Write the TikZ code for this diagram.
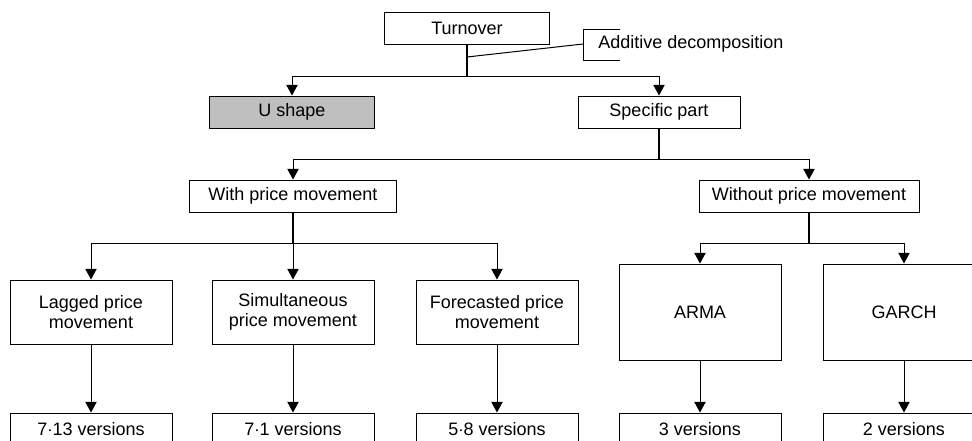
\documentclass[tikz,border=0pt]{standalone}
\usepackage{fontspec}
\setmainfont{Liberation Sans}
\usetikzlibrary{arrows.meta}

\begin{document}
\begin{tikzpicture}[
            x=0.75pt, y=-0.75pt,
            font=\fontsize{13.5}{15}\selectfont,
            box/.style={
                rectangle,
                draw=black,
                line width=0.75pt,
                inner sep=0pt,
                minimum height=24pt,
                align=center
            },
            tallbox/.style={
                box,
                minimum width=121.5pt,
                minimum height=48pt
            },
            bigbox/.style={
                box,
                minimum width=121.5pt,
                minimum height=72pt
            },
            countbox/.style={
                box,
                minimum width=121.5pt
            },
            stem/.style={line width=1.1pt},
            line/.style={line width=0.75pt},
            arrow/.style={line width=0.75pt, -{Triangle[length=8pt,width=8.5pt]}}
        ]

        % Frame of the picture
        \clip (0,0) rectangle (972,440);

        % Top level
        \node[box, minimum width=123.75pt] (turnover) at (467,28) {Turnover};
        \node[box, minimum width=123.75pt, fill=black!25] (ushape) at (292,112) {U shape};
        \node[box, minimum width=121.5pt] (specific) at (659,112) {Specific part};

        % Additive decomposition bracket
        \node[anchor=west, inner sep=0pt] (additive) at (598,44) {Additive decomposition};
        \draw[line] (620,29) -- (583,29) -- (583,60) -- (620,60);
        \coordinate (brk) at (583,44);
        \coordinate (tap) at (467,57);

        % Second level
        \node[box, minimum width=155.25pt] (withpm) at (293,196) {With price movement};
        \node[box, minimum width=165pt] (withoutpm) at (809,196) {Without price movement};

        % Third level
        \node[tallbox] (lagged) at (91,312) {Lagged price\\movement};
        \node[tallbox] (simult) at (293,312) {Simultaneous\\price movement};
        \node[tallbox] (forecast) at (497,312) {Forecasted price\\movement};
        \node[bigbox] (arma) at (700,312) {ARMA};
        \node[bigbox] (garch) at (904,312) {GARCH};

        % Versions
        \node[countbox] (v1) at (91,429) {7$\cdot$13 versions};
        \node[countbox] (v2) at (293,429) {7$\cdot$1 versions};
        \node[countbox] (v3) at (497,429) {5$\cdot$8 versions};
        \node[countbox] (v4) at (700,429) {3 versions};
        \node[countbox] (v5) at (904,429) {2 versions};

        % Junctions
        \coordinate (j0) at (467,76);
        \coordinate (j1) at (659,159);
        \coordinate (j2) at (293,243);
        \coordinate (j3) at (809,243);

        % Turnover split
        \draw[stem] (turnover.south) -- (j0);
        \draw[line] (brk) -- (tap);
        \draw[arrow] (j0) -| (ushape.north);
        \draw[arrow] (j0) -| (specific.north);

        % Specific part split
        \draw[stem] (specific.south) -- (j1);
        \draw[arrow] (j1) -| (withpm.north);
        \draw[arrow] (j1) -| (withoutpm.north);

        % With price movement split
        \draw[stem] (withpm.south) -- (j2);
        \draw[arrow] (j2) -| (lagged.north);
        \draw[arrow] (j2) -- (simult.north);
        \draw[arrow] (j2) -| (forecast.north);

        % Without price movement split
        \draw[stem] (withoutpm.south) -- (j3);
        \draw[arrow] (j3) -| (arma.north);
        \draw[arrow] (j3) -| (garch.north);

        % Down to the versions
        \draw[arrow] (lagged.south) -- (v1.north);
        \draw[arrow] (simult.south) -- (v2.north);
        \draw[arrow] (forecast.south) -- (v3.north);
        \draw[arrow] (arma.south) -- (v4.north);
        \draw[arrow] (garch.south) -- (v5.north);

        \end{tikzpicture}
\end{document}
